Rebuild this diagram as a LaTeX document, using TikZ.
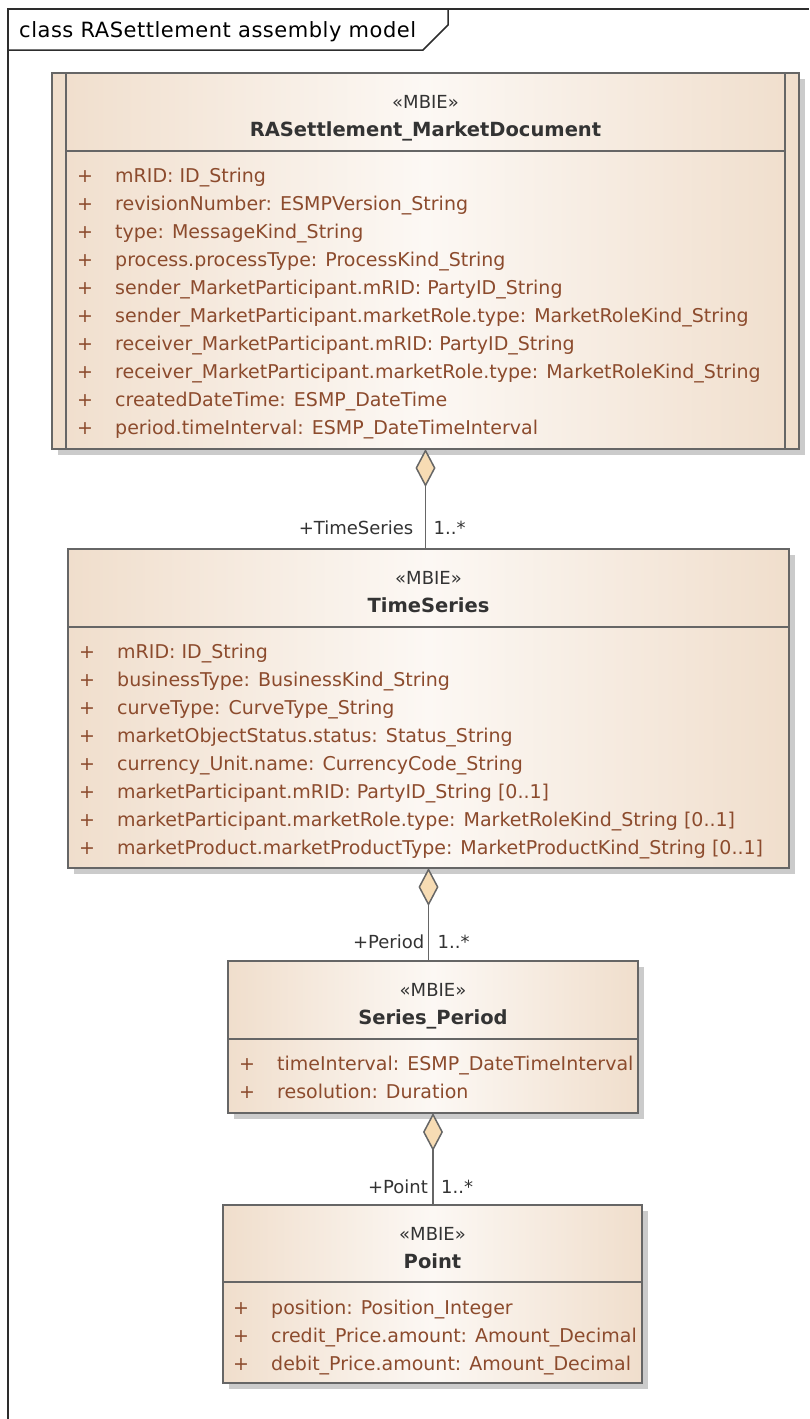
\documentclass[tikz,border=0pt]{standalone}
\usepackage{fontspec}
\setmainfont{DejaVu Sans}
\usetikzlibrary{arrows.meta,positioning,shadows}
\definecolor{umlline}{HTML}{666666}
\definecolor{umlframe}{HTML}{2D2D2D}
\definecolor{umltan}{HTML}{F0DECC}
\definecolor{umllight}{HTML}{FCF8F4}
\definecolor{umlshadow}{HTML}{CBCBCB}
\definecolor{umlattr}{HTML}{8C4B2D}
\definecolor{umlname}{HTML}{333333}
\definecolor{aggfill}{HTML}{F7DCB4}
\tikzset{classbox/.style={draw=umlline, line width=1.3pt, anchor=north west, inner sep=0pt, outer sep=0pt, left color=umltan, right color=umltan, middle color=umllight, drop shadow={shadow xshift=6pt, shadow yshift=-6pt, fill=umlshadow, opacity=1}}}
\tikzset{stereo/.style={anchor=base, inner sep=0pt, text=umlname, font=\fontsize{18}{20}\selectfont}}
\tikzset{cname/.style={anchor=base, inner sep=0pt, text=umlname, font=\fontsize{19.5}{22}\selectfont\bfseries}}
\tikzset{attr/.style={anchor=base west, inner sep=0pt, text=umlattr, font=\fontsize{19}{22}\selectfont}}
\tikzset{attrplus/.style={anchor=base, inner sep=0pt, text=umlattr, font=\fontsize{19}{22}\selectfont}}
\tikzset{aggr/.style={draw=umlline, line width=1.5pt, -{Diamond[length=38pt, width=20pt, fill=aggfill]}}}
\tikzset{role/.style={inner sep=0pt, text=umlname, font=\fontsize{18}{20}\selectfont}}
% #1 class node, #2 offset of the plus signs, #3 attributes
\newcommand{\umlattrs}[3]{%
  \foreach \a [count=\i] in {#3} {
    \node[attrplus] at ([xshift=#2pt, yshift={-109pt-28pt*(\i-1)}]#1.north west) {+};
    \node[attr] at ([xshift={#2pt+30pt}, yshift={-109pt-28pt*(\i-1)}]#1.north west) {\a};
  }}

\begin{document}
\begin{tikzpicture}[x=1pt, y=-1pt]
  \useasboundingbox (0,0) rectangle (809,1419);
  % frame and title tab
  \draw[umlframe, line width=1.5pt] (8,1419) -- (8,9) -- (809,9);
  \draw[umlframe, line width=1.5pt] (8,50) -- (423,50) -- (448,25) -- (448,9);
  \node[anchor=base west, inner sep=0pt, text=black, font=\fontsize{21}{24}\selectfont\addfontfeature{LetterSpace=2.5}] (title) at (19,37) {class RASettlement assembly model};

  % classes
  \node[classbox, minimum width=747pt, minimum height=376pt] (doc) at (52,73) {};
  \draw[umlline, line width=1.3pt] ([xshift=14pt]doc.north west) -- ([xshift=14pt]doc.south west)
    ([xshift=-14pt]doc.north east) -- ([xshift=-14pt]doc.south east)
    ([xshift=14pt, yshift=-78pt]doc.north west) -- ([xshift=-14pt, yshift=-78pt]doc.north east);
  \node[stereo] (docst) at ([yshift=-35pt]doc.north) {«MBIE»};
  \node[cname] (docname) at ([yshift=-63pt]doc.north) {RASettlement\_MarketDocument};
  \umlattrs{doc}{33}{mRID: ID\_String, revisionNumber: ESMPVersion\_String, type: MessageKind\_String, process.processType: ProcessKind\_String, sender\_MarketParticipant.mRID: PartyID\_String, sender\_MarketParticipant.marketRole.type: MarketRoleKind\_String, receiver\_MarketParticipant.mRID: PartyID\_String, receiver\_MarketParticipant.marketRole.type: MarketRoleKind\_String, createdDateTime: ESMP\_DateTime, period.timeInterval: ESMP\_DateTimeInterval}

  \node[classbox, minimum width=721pt, minimum height=319pt] (ts) at (68,549) {};
  \draw[umlline, line width=1.3pt] ([yshift=-78pt]ts.north west) -- ([yshift=-78pt]ts.north east);
  \node[stereo] (tsst) at ([yshift=-35pt]ts.north) {«MBIE»};
  \node[cname] (tsname) at ([yshift=-63pt]ts.north) {TimeSeries};
  \umlattrs{ts}{19}{mRID: ID\_String, businessType: BusinessKind\_String, curveType: CurveType\_String, marketObjectStatus.status: Status\_String, currency\_Unit.name: CurrencyCode\_String, marketParticipant.mRID: PartyID\_String [0..1], marketParticipant.marketRole.type: MarketRoleKind\_String [0..1], marketProduct.marketProductType: MarketProductKind\_String [0..1]}

  \node[classbox, minimum width=410pt, minimum height=152pt] (sp) at (228,961) {};
  \draw[umlline, line width=1.3pt] ([yshift=-78pt]sp.north west) -- ([yshift=-78pt]sp.north east);
  \node[stereo] (spst) at ([yshift=-35pt]sp.north) {«MBIE»};
  \node[cname] (spname) at ([yshift=-63pt]sp.north) {Series\_Period};
  \umlattrs{sp}{19}{timeInterval: ESMP\_DateTimeInterval, resolution: Duration}

  \node[classbox, minimum width=419pt, minimum height=178pt] (pt) at (223,1205) {};
  \draw[umlline, line width=1.3pt] ([yshift=-77pt]pt.north west) -- ([yshift=-77pt]pt.north east);
  \node[stereo] (ptst) at ([yshift=-35pt]pt.north) {«MBIE»};
  \node[cname] (ptname) at ([yshift=-63pt]pt.north) {Point};
  \umlattrs{pt}{18}{position: Position\_Integer, credit\_Price.amount: Amount\_Decimal, debit\_Price.amount: Amount\_Decimal}

  % aggregations
  \coordinate (tstop) at (doc.south |- ts.north);
  \draw[aggr] (tstop) -- (doc.south);
  \node[role, anchor=base east] (tsrole) at ([xshift=-12pt, yshift=15pt]tstop) {+TimeSeries};
  \node[role, anchor=base west] (tsmult) at ([xshift=8pt, yshift=15pt]tstop) {1..*};

  \draw[aggr] (sp.north -| ts.south) -- (ts.south);
  \node[role, anchor=base east] (sprole) at ([xshift=-4pt, yshift=13pt]sp.north -| ts.south) {+Period};
  \node[role, anchor=base west] (spmult) at ([xshift=9pt, yshift=13pt]sp.north -| ts.south) {1..*};

  \draw[aggr] (pt.north -| sp.south) -- (sp.south);
  \node[role, anchor=base east] (ptrole) at ([xshift=-5pt, yshift=12pt]pt.north -| sp.south) {+Point};
  \node[role, anchor=base west] (ptmult) at ([xshift=8pt, yshift=12pt]pt.north -| sp.south) {1..*};
\end{tikzpicture}
\end{document}
